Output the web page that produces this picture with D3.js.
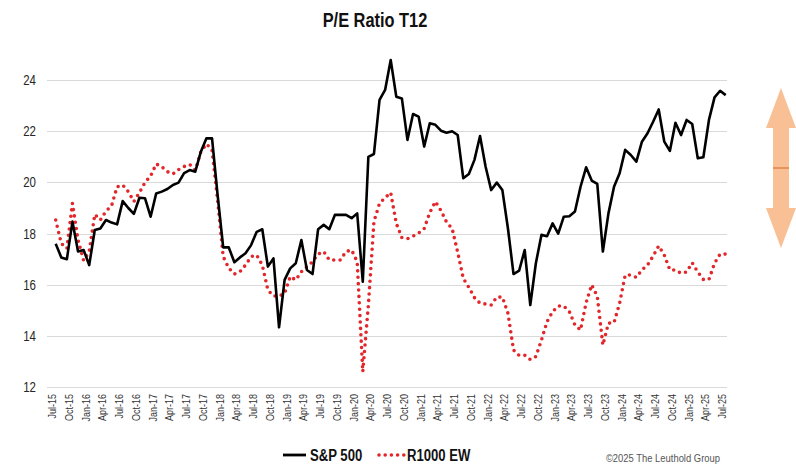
<!DOCTYPE html>
<html>
<head>
<meta charset="utf-8">
<script src="https://cdn.jsdelivr.net/npm/d3@7"></script>
<style>
  body { margin: 0; background: #fff; }
  svg { display: block; }
</style>
</head>
<body>
<script>
const W = 796, H = 464;
// no narrow face installed, so Liberation Sans gets squeezed horizontally
const FONT = '"Liberation Sans", Arial, sans-serif';
const NARROW = 0.82;

// quarterly tick labels, Jul-15 .. Jul-25 (month index 0, 3, 6, ...)
const tickLabels = ["Jul-15","Oct-15","Jan-16","Apr-16","Jul-16","Oct-16","Jan-17","Apr-17","Jul-17","Oct-17",
  "Jan-18","Apr-18","Jul-18","Oct-18","Jan-19","Apr-19","Jul-19","Oct-19","Jan-20","Apr-20",
  "Jul-20","Oct-20","Jan-21","Apr-21","Jul-21","Oct-21","Jan-22","Apr-22","Jul-22","Oct-22",
  "Jan-23","Apr-23","Jul-23","Oct-23","Jan-24","Apr-24","Jul-24","Oct-24","Jan-25","Apr-25","Jul-25"];

const yTicks = [12, 14, 16, 18, 20, 22, 24];

// monthly trailing P/E, Jul-15 .. Jul-25
const sp500 = [17.6,17.07,17.0,18.47,17.3,17.36,16.77,18.14,18.2,18.53,18.43,18.36,
  19.27,19.0,18.77,19.4,19.38,18.66,19.57,19.64,19.74,19.9,19.99,20.36,
  20.48,20.42,21.2,21.72,21.72,19.5,17.46,17.46,16.88,17.07,17.23,17.55,
  18.07,18.17,16.71,17.03,14.34,16.19,16.64,16.84,17.75,16.58,16.42,18.17,
  18.34,18.17,18.73,18.73,18.73,18.6,18.79,16.12,21.0,21.11,23.22,23.61,
  24.78,23.35,23.28,21.66,22.67,22.57,21.4,22.31,22.25,22.02,21.94,22.0,
  21.85,20.16,20.33,20.88,21.81,20.61,19.7,19.99,19.7,18.2,16.42,16.55,
  17.36,15.21,16.84,17.95,17.9,18.4,18.0,18.66,18.68,18.86,19.83,20.59,
  20.07,19.94,17.3,18.79,19.83,20.36,21.27,21.07,20.81,21.59,21.92,22.37,
  22.85,21.59,21.23,22.33,21.85,22.44,22.28,20.94,20.98,22.44,23.32,23.58,23.41];

const r1000ew = [18.53,17.62,17.42,19.18,17.75,16.95,17.3,18.75,18.53,18.88,19.08,19.83,
  19.9,19.64,19.25,19.6,20.0,20.25,20.72,20.61,20.42,20.33,20.5,20.62,
  20.7,20.48,21.2,21.5,21.27,19.3,17.1,16.65,16.42,16.51,16.77,17.1,
  17.16,16.77,15.8,15.56,15.56,15.66,16.32,16.19,16.51,16.71,16.9,17.2,
  17.3,16.97,16.97,16.97,17.3,17.36,16.9,12.6,15.2,18.47,19.18,19.4,
  19.6,18.4,17.84,17.8,17.9,18.02,18.2,18.82,19.25,18.9,18.45,18.2,
  17.27,16.25,15.9,15.5,15.28,15.25,15.21,15.52,15.52,14.89,13.45,13.24,
  13.25,13.08,13.2,13.84,14.56,14.95,15.17,15.17,14.95,14.43,14.23,15.3,
  16.0,15.55,13.65,14.5,14.52,15.28,16.38,16.38,16.29,16.58,16.77,17.12,
  17.52,17.16,16.58,16.58,16.45,16.5,16.86,16.5,16.21,16.21,16.84,17.2,17.2];

const seriesNames = ["S&P 500", "R1000 EW"];

const svg = d3.select("body").append("svg").attr("width", W).attr("height", H);
svg.append("rect").attr("width", W).attr("height", H).attr("fill", "#fff");

const gridLeft = 47, gridRight = 727;
const x = d3.scaleLinear().domain([0, sp500.length - 1]).range([55.7, 725.7]);
const y = d3.scaleLinear().domain([12, 24]).range([387.2, 80]);

// squeezed text helper: anchor point (tx, ty), horizontal scale NARROW
function narrowText(g, tx, ty, str, size, opts = {}) {
  return g.append("text")
    .attr("transform", `translate(${tx},${ty}) scale(${NARROW},1)`)
    .attr("text-anchor", opts.anchor || "start")
    .attr("font-family", FONT).attr("font-size", size)
    .attr("font-weight", opts.weight || "normal")
    .attr("fill", opts.fill || "#111")
    .text(str);
}

// title
narrowText(svg, 375, 27, "P/E Ratio T12", 20, {anchor: "middle", weight: "bold", fill: "#111"});

// gridlines
svg.append("g").selectAll("line")
  .data(yTicks)
  .join("line")
  .attr("x1", gridLeft).attr("x2", gridRight)
  .attr("y1", d => Math.round(y(d)) + 0.5).attr("y2", d => Math.round(y(d)) + 0.5)
  .attr("stroke", "#d9d9d9").attr("stroke-width", 1);

// y axis labels
const yAxis = svg.append("g")
  .attr("transform", `translate(${gridLeft - 11},0)`)
  .call(d3.axisLeft(y).tickValues(yTicks).tickSize(0).tickPadding(0));
yAxis.select(".domain").remove();
yAxis.selectAll("text")
  .attr("font-family", FONT).attr("font-size", 14).attr("fill", "#262626")
  .attr("transform", `scale(${NARROW},1)`);

// x axis labels
const xAxis = svg.append("g")
  .attr("transform", "translate(0,394)")
  .call(d3.axisBottom(x)
    .tickValues(d3.range(0, sp500.length, 3))
    .tickFormat((d, i) => tickLabels[i])
    .tickSize(0).tickPadding(0));
xAxis.select(".domain").remove();
xAxis.selectAll("text")
  .attr("font-family", FONT).attr("font-size", 11).attr("fill", "#333")
  .attr("text-anchor", "end")
  .attr("dy", 0).attr("y", 0).attr("x", 0)
  .attr("transform", `rotate(-90) scale(${NARROW},1)`);

// lines
const line = d3.line().x((d, i) => x(i)).y(d => y(d));

svg.append("path")
  .datum(r1000ew)
  .attr("d", line)
  .attr("fill", "none")
  .attr("stroke", "#e3262a").attr("stroke-width", 3.6)
  .attr("stroke-linecap", "round").attr("stroke-linejoin", "round")
  .attr("stroke-dasharray", "0 6.4");

svg.append("path")
  .datum(sp500)
  .attr("d", line)
  .attr("fill", "none")
  .attr("stroke", "#000").attr("stroke-width", 2.6)
  .attr("stroke-linejoin", "round");

// legend
const legend = svg.append("g");
legend.append("line")
  .attr("x1", 283).attr("x2", 306).attr("y1", 455).attr("y2", 455)
  .attr("stroke", "#000").attr("stroke-width", 2.8);
narrowText(legend, 310, 461, seriesNames[0], 16, {weight: "bold"});
legend.append("line")
  .attr("x1", 379).attr("x2", 404).attr("y1", 455).attr("y2", 455)
  .attr("stroke", "#e3262a").attr("stroke-width", 3.6)
  .attr("stroke-linecap", "round").attr("stroke-dasharray", "0 6.2");
narrowText(legend, 407, 461, seriesNames[1], 16, {weight: "bold"});

// source
narrowText(svg, 720, 462, "©2025 The Leuthold Group", 11.5, {anchor: "end", fill: "#555"});

// orange double arrow on the right edge
const ax = 781, arrowTop = 88, arrowBot = 248, headH = 40, headW = 15, shaftW = 8;
const arrowPts = [
  [ax, arrowTop], [ax + headW, arrowTop + headH], [ax + shaftW, arrowTop + headH],
  [ax + shaftW, arrowBot - headH], [ax + headW, arrowBot - headH], [ax, arrowBot],
  [ax - headW, arrowBot - headH], [ax - shaftW, arrowBot - headH],
  [ax - shaftW, arrowTop + headH], [ax - headW, arrowTop + headH]
];
svg.append("path")
  .attr("d", d3.line()(arrowPts) + "Z")
  .attr("fill", "#f8b98a").attr("fill-opacity", 0.9);
svg.append("line")
  .attr("x1", ax - shaftW).attr("x2", ax + shaftW)
  .attr("y1", (arrowTop + arrowBot) / 2).attr("y2", (arrowTop + arrowBot) / 2)
  .attr("stroke", "#e8935c").attr("stroke-width", 2);
</script>
</body>
</html>
